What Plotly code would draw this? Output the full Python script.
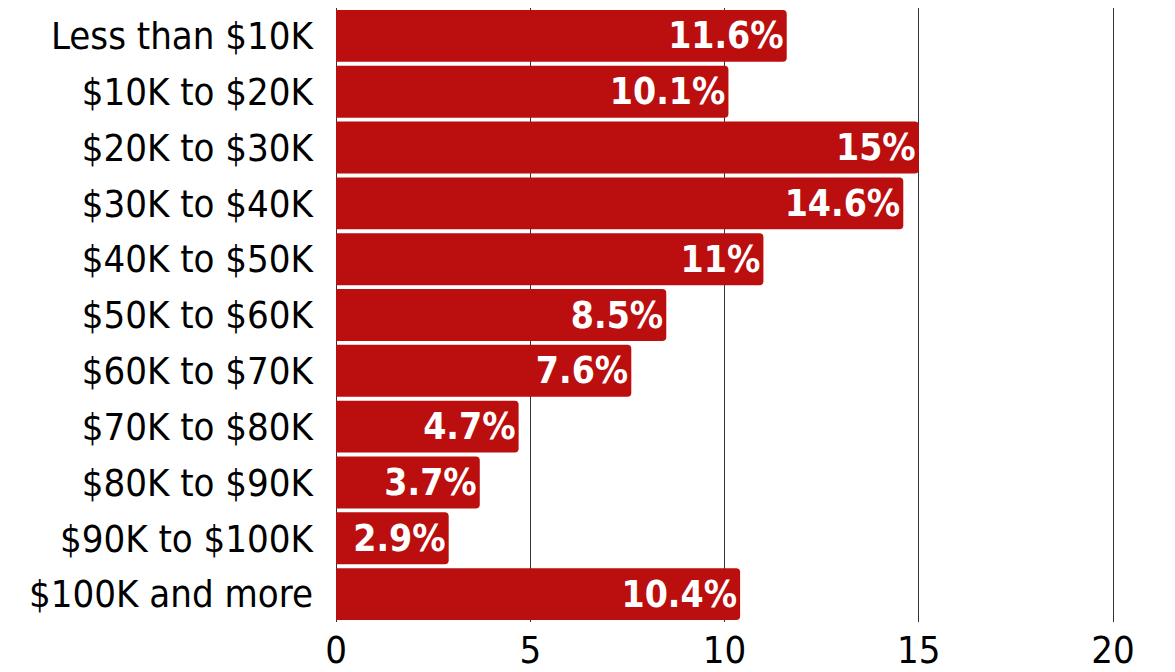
import plotly.graph_objects as go

categories = ["Less than $10K", "$10K to $20K", "$20K to $30K", "$30K to $40K",
              "$40K to $50K", "$50K to $60K", "$60K to $70K", "$70K to $80K",
              "$80K to $90K", "$90K to $100K", "$100K and more"]
values = [11.6, 10.1, 15, 14.6, 11, 8.5, 7.6, 4.7, 3.7, 2.9, 10.4]
labels = ["11.6%", "10.1%", "15%", "14.6%", "11%", "8.5%", "7.6%", "4.7%", "3.7%", "2.9%", "10.4%"]
x_ticks = [0, 5, 10, 15, 20]

fig = go.Figure(go.Bar(
    x=values, y=categories, orientation="h",
    marker=dict(color="#BB0E0E", line=dict(width=0)),
    text=labels, textposition="inside", insidetextanchor="end", textangle=0,
    textfont=dict(family="DejaVu Sans Condensed", size=37, color="white", weight="bold"),
    constraintext="none", cliponaxis=True,
))
fig.update_layout(
    width=1167, height=664,
    margin=dict(l=328, r=58, t=0, b=50, pad=0),
    paper_bgcolor="white", plot_bgcolor="white",
    bargap=0.07, barcornerradius=4,
    showlegend=False,
    font=dict(family="DejaVu Sans Condensed", size=38, color="black"),
)
fig.update_xaxes(range=[0, 20.1], tickvals=x_ticks, showgrid=True, gridcolor="#333333",
                 gridwidth=1, zeroline=True, zerolinecolor="#333333", zerolinewidth=1,
                 showline=False, ticks="", tickfont=dict(size=38), automargin=False,
                 ticklabelstandoff=2)
fig.update_yaxes(categoryorder="array", categoryarray=categories, autorange="reversed",
                 showgrid=False, ticks="", ticklen=0, tickfont=dict(size=38),
                 showline=False, automargin=False, ticklabelstandoff=22)
fig.write_html("out.html")
